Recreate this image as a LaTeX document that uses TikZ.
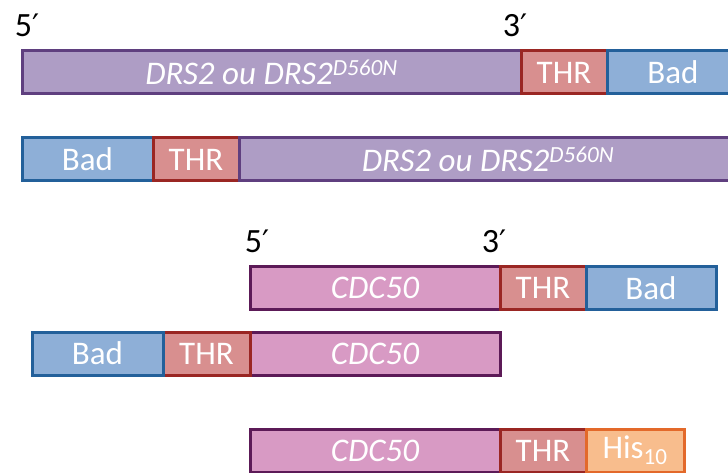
\documentclass[tikz,border=0pt]{standalone}
\usepackage{fontspec}
\setmainfont{Carlito}
\newfontfamily\primefont{DejaVu Sans}
\usepackage{tikz}
\usetikzlibrary{positioning}

\definecolor{drsfill}{HTML}{AE9DC5}
\definecolor{drsline}{HTML}{5F3F7F}
\definecolor{thrfill}{HTML}{D88F8F}
\definecolor{thrline}{HTML}{9A2623}
\definecolor{badfill}{HTML}{8EAFD7}
\definecolor{badline}{HTML}{23609A}
\definecolor{cdcfill}{HTML}{D89AC4}
\definecolor{cdcline}{HTML}{5C1A57}
\definecolor{hisfill}{HTML}{F8BD8D}
\definecolor{hisline}{HTML}{E3692A}

\newcommand{\pr}{{\primefont\fontsize{31}{31}\selectfont ′}}

\begin{document}
\begin{tikzpicture}[
    x=1pt, y=-1pt,
    node distance=0pt,
    seg/.style={rectangle, draw, line width=3pt, minimum height=43pt, inner sep=0pt, outer sep=0pt, text=white, font=\fontsize{33}{33}\selectfont},
    drs/.style={seg, fill=drsfill, draw=drsline, font=\fontsize{33}{33}\selectfont\itshape},
    cdc/.style={seg, fill=cdcfill, draw=cdcline, minimum width=250pt, font=\fontsize{33}{33}\selectfont\itshape},
    thr/.style={seg, fill=thrfill, draw=thrline, minimum width=86pt},
    bad/.style={seg, fill=badfill, draw=badline},
    his/.style={seg, fill=hisfill, draw=hisline, minimum width=98pt},
    prime/.style={font=\fontsize{34}{34}\selectfont, inner sep=0pt, anchor=base}
    ]
    \clip (0,0) rectangle (728,473);
    \useasboundingbox (0,0) rectangle (728,473);

    % DRS2, Bad en C-terminal
    \node[drs, minimum width=499pt, anchor=west] (drsA) at (22,72.5) {DRS2 ou DRS2\textsuperscript{D560N}};
    \node[thr, right=of drsA] (thrA) {THR};
    \node[bad, minimum width=132pt, right=of thrA] (badA) {Bad};
    \node[prime] (fiveA) at (27,37) {5\pr};
    \node[prime] (threeA) at (515,37) {3\pr};

    % DRS2, Bad en N-terminal
    \node[bad, minimum width=131pt, anchor=west] (badB) at (22,159.5) {Bad};
    \node[thr, right=of badB] (thrB) {THR};
    \node[drs, minimum width=498pt, right=of thrB] (drsB) {DRS2 ou DRS2\textsuperscript{D560N}};

    % CDC50, Bad en C-terminal
    \node[cdc, anchor=west] (cdcC) at (250,288) {CDC50};
    \node[thr, right=of cdcC] (thrC) {THR};
    \node[bad, minimum width=130pt, right=of thrC] (badC) {Bad};
    \node[prime] (fiveC) at (257,252) {5\pr};
    \node[prime] (threeC) at (494,252) {3\pr};

    % CDC50, Bad en N-terminal
    \node[cdc, anchor=west] (cdcD) at (250,353.5) {CDC50};
    \node[thr, minimum width=87pt, left=of cdcD] (thrD) {THR};
    \node[bad, minimum width=131pt, left=of thrD] (badD) {Bad};

    % CDC50, His10
    \node[cdc, anchor=west] (cdcE) at (250,450.5) {CDC50};
    \node[thr, right=of cdcE] (thrE) {THR};
    \node[his, right=of thrE] (hisE) {His\textsubscript{10}};
\end{tikzpicture}
\end{document}
